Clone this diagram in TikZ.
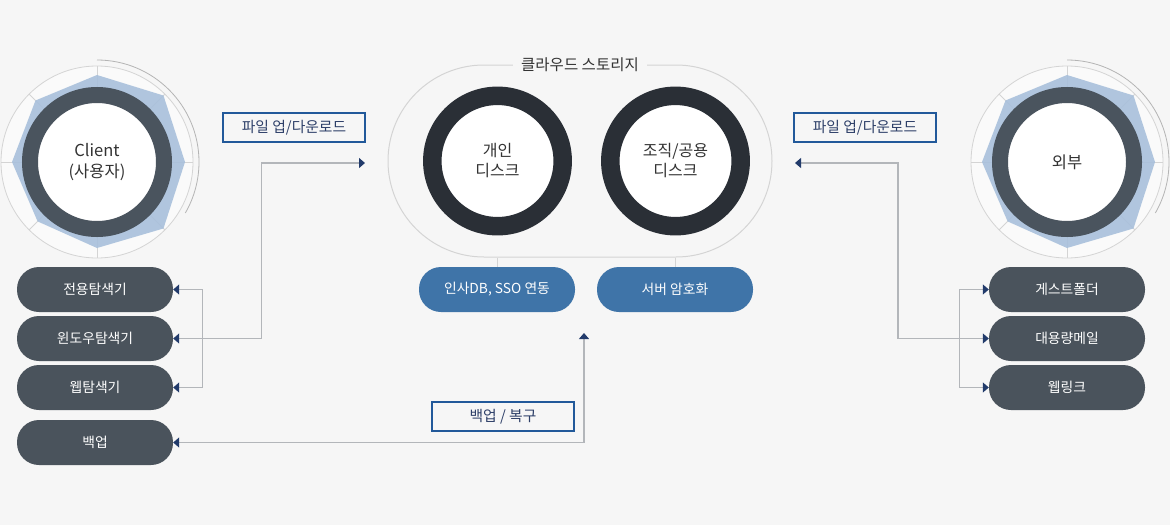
\documentclass[tikz,border=0pt]{standalone}
\usepackage{fontspec}
\setmainfont{Noto Sans CJK KR}
\usetikzlibrary{arrows.meta,positioning}
\definecolor{bgcol}{HTML}{F6F6F6}
\definecolor{radarbg}{HTML}{FAFAFA}
\definecolor{radarline}{HTML}{D4D4D4}
\definecolor{arccol}{HTML}{B4B4B4}
\definecolor{polycol}{HTML}{A8C0DB}
\definecolor{ringcol}{HTML}{4A545E}
\definecolor{diskcol}{HTML}{2A2F36}
\definecolor{hrblue}{HTML}{3F74A8}
\definecolor{pillcol}{HTML}{4A535C}
\definecolor{linecol}{HTML}{B3B6BA}
\definecolor{navy}{HTML}{223B6B}
\definecolor{boxcol}{HTML}{22599A}
\definecolor{labeltext}{HTML}{2D3F68}
\definecolor{darktext}{HTML}{333333}

\tikzset{
  pill/.style={fill=pillcol, text=white, rounded corners=22pt, minimum width=156pt,
    minimum height=45pt, inner sep=0pt, font=\fontsize{13.8}{16}\selectfont},
  bluepill/.style={pill, fill=hrblue},
  lbox/.style={draw=boxcol, line width=1.2pt, text=labeltext, minimum width=142pt,
    minimum height=29pt, inner sep=0pt, font=\fontsize{14.8}{16}\selectfont},
  conn/.style={draw=linecol, line width=1.2pt},
  twoway/.style={arrows={Triangle[length=6pt,width=10pt,color=navy]-Triangle[length=6pt,width=10pt,color=navy]}},
  disktext/.style={align=center, text=darktext, font=\fontsize{16}{20}\selectfont}
}

\begin{document}
\begin{tikzpicture}[x=1pt,y=-1pt]
  \fill[bgcol] (0,0) rectangle (1170,525);
  \useasboundingbox (0,0) rectangle (1170,525);
  % Radar charts (client / external)
  \foreach \cx/\nm/\txt in {97/client/{Client\\(사용자)}, 1067/ext/{외부}} {
    \fill[radarbg] (\cx,162) circle (96);
    \foreach \a in {0,45,...,315}
      \draw[radarline, line width=0.8pt] (\cx,162) -- +(\a:96);
    \draw[radarline, line width=0.8pt] (\cx,162) circle (96);
    \draw[arccol, line width=0.8pt] (\cx,162) ++(-90:102) arc[start angle=-90, end angle=30, radius=102];
    \fill[polycol, fill opacity=0.9] (\cx,162) +(270:87) -- +(315:94) -- +(0:88) -- +(45:94)
      -- +(90:86) -- +(135:84) -- +(180:85) -- +(225:87) -- cycle;
    \draw[ringcol, line width=16pt, fill=white] (\cx,162) circle (67);
    \node[disktext, font=\fontsize{16.5}{21}\selectfont] (\nm) at (\cx,162) {\txt};
  }
  % Cloud storage
  \node[draw=radarline, line width=1pt, rounded corners=96pt, minimum width=384pt,
    minimum height=192pt] (cloud) at (580,161) {};
  \node[fill=bgcol, inner xsep=8pt, text=darktext, font=\fontsize{15.5}{17}\selectfont]
    (cloudTitle) at (cloud.north) {클라우드 스토리지};
  \draw[diskcol, line width=18.5pt, fill=white] (497.5,161) circle (65.2);
  \node[disktext] (disk1) at (497.5,161) {개인\\디스크};
  \draw[diskcol, line width=18.5pt, fill=white] (675.5,161) circle (65.2);
  \node[disktext] (disk2) at (675.5,161) {조직/공용\\디스크};
  \node[bluepill] (pHR) at (497,289.5) {인사DB, SSO 연동};
  \node[bluepill] (pEnc) at (675,289.5) {서버 암호화};
  \draw[conn, draw=radarline, line width=1pt] (pHR.north) -- (pHR.north |- cloud.south);
  \draw[conn, draw=radarline, line width=1pt] (pEnc.north) -- (pEnc.north |- cloud.south);
  % Client tools
  \node[pill] (pDedi) at (95,289.5) {전용탐색기};
  \node[pill] (pWin) at (95,338.5) {윈도우탐색기};
  \node[pill] (pWebEx) at (95,387.5) {웹탐색기};
  \node[pill] (pBackup) at (95,442.5) {백업};
  % External tools
  \node[pill] (pGuest) at (1067,289.5) {게스트폴더};
  \node[pill] (pMail) at (1067,338.5) {대용량메일};
  \node[pill] (pLink) at (1067,387.5) {웹링크};
  % Labels
  \node[lbox] (upLabelL) at (294,127.5) {파일 업/다운로드};
  \node[lbox] (upLabelR) at (865,127.5) {파일 업/다운로드};
  \node[lbox] (bkLabel) at (503,416.5) {백업 / 복구};
  % Connectors
  \coordinate (upL) at (365,163);
  \coordinate (dnR) at (795,163);
  \coordinate (bkUp) at (584,333);
  \draw[conn, twoway] (pDedi.east) -- ++(29,0) |- (pWebEx.east);
  \draw[conn, twoway] (pWin.east) -- ++(88,0) |- (upL);
  \draw[conn, twoway] (pBackup.east) -| (bkUp);
  \draw[conn, twoway] (pGuest.west) -- ++(-29,0) |- (pLink.west);
  \draw[conn, twoway] (dnR) -- ++(103,0) |- (pMail.west);
\end{tikzpicture}
\end{document}
